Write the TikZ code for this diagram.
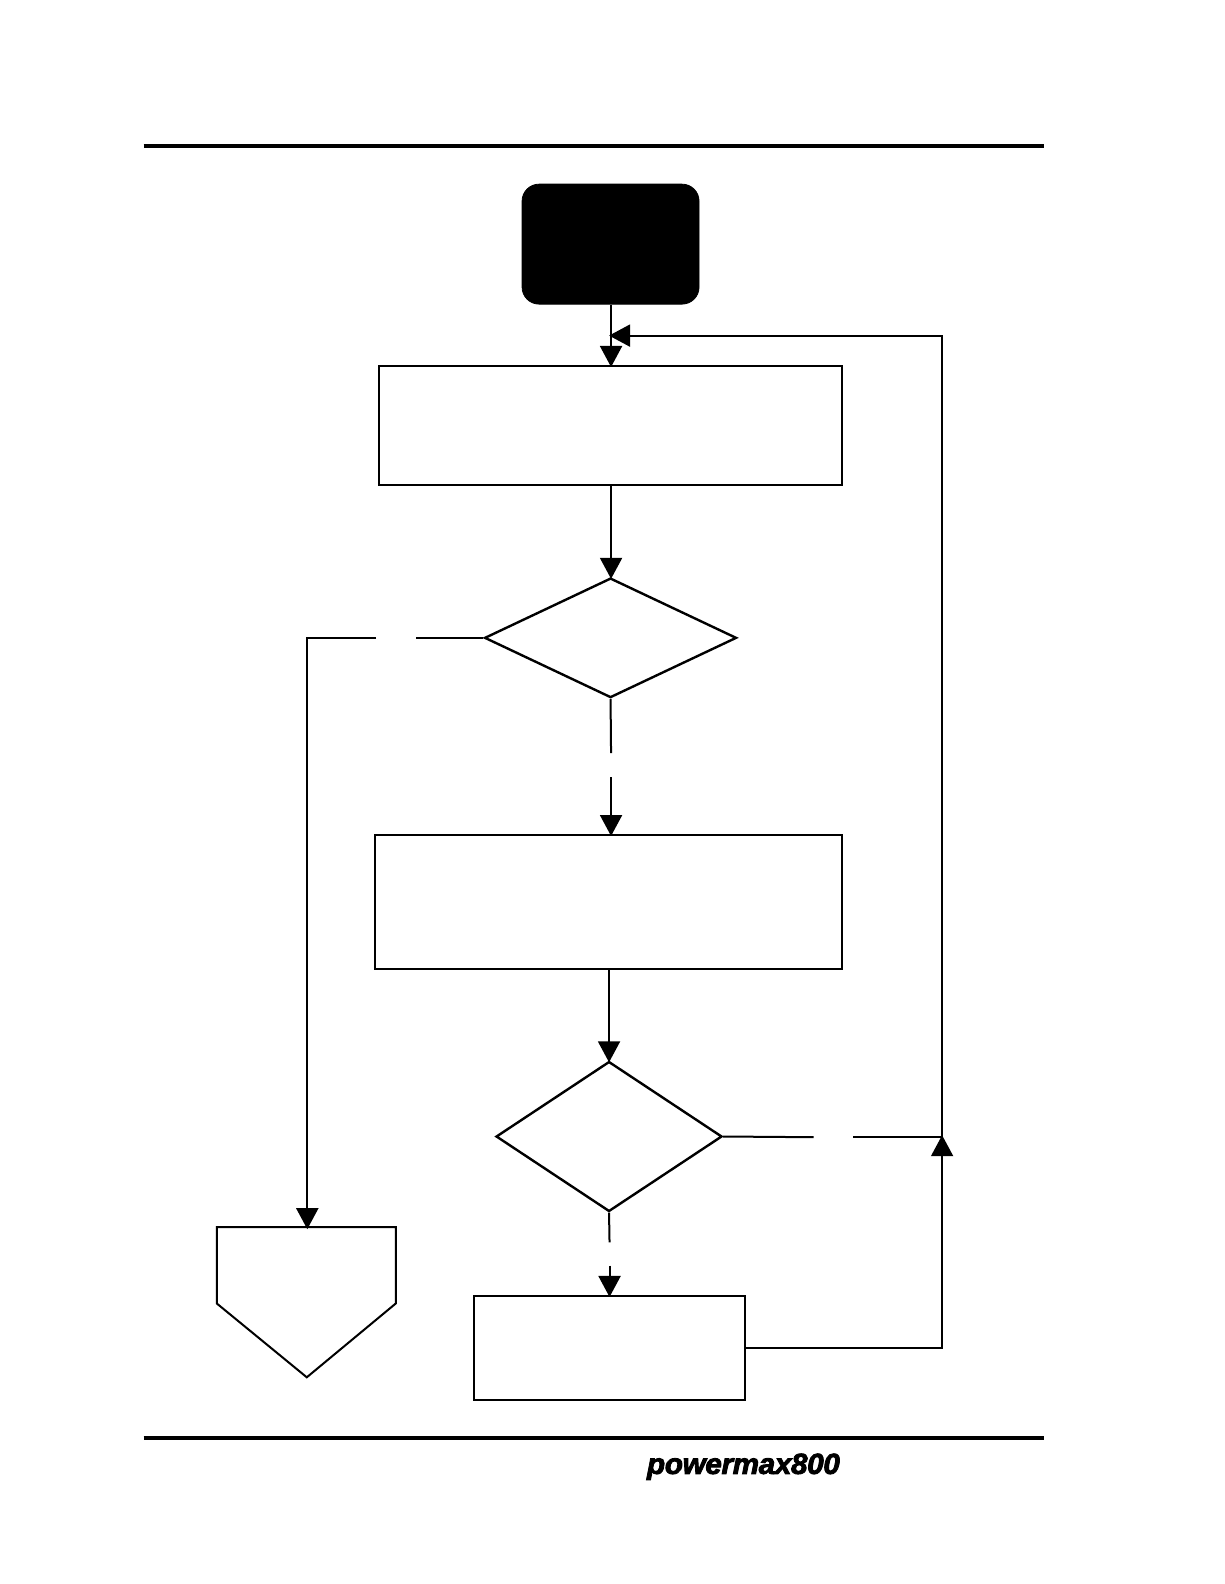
\documentclass[tikz,border=0pt]{standalone}
\usepackage{fontspec}
\usetikzlibrary{arrows.meta,shapes.geometric}
\newfontfamily\logofont[FakeStretch=1.02,FakeBold=3,LetterSpace=-1]{Liberation Sans}
\tikzset{
	flowbox/.style={draw,line width=1pt,inner sep=0pt},
	flowdec/.style={draw,diamond,line width=1.2pt,inner sep=0pt},
	flowline/.style={line width=1pt},
	flowarrow/.style={line width=1pt,shorten >=-1pt,-{Triangle[length=10.5pt,width=11pt]}},
	pagerule/.style={line width=2pt}
}

\begin{document}
\begin{tikzpicture}[x=0.5055pt,y=-0.5055pt]
	\useasboundingbox (0,0) rectangle (1211,1567);
	% page rules
	\draw[pagerule] (142,144.5) -- (1033,144.5);
	\draw[pagerule] (142,1423) -- (1033,1423);
	\node[font=\logofont\bfseries\itshape\fontsize{14.5}{15}\selectfont,inner sep=0pt] (logo) at (735.5,1451) {powermax800};
	% boxes
	\node[fill=black,draw,rounded corners=8.5pt,minimum width=88.5pt,minimum height=60pt,inner sep=0pt] (start) at (604,241.5) {};
	\node[flowbox,minimum width=231.5pt,minimum height=59.6pt] (boxA) at (604,421) {};
	\node[flowdec,minimum width=126pt,minimum height=59.8pt] (decA) at (604,631) {};
	\node[flowbox,minimum width=233.5pt,minimum height=67.2pt] (boxB) at (602,892.5) {};
	\node[flowdec,minimum width=113pt,minimum height=75pt] (decB) at (602.5,1124.3) {};
	\node[flowbox,minimum width=135.5pt,minimum height=52pt] (boxC) at (602.5,1333.5) {};
	% off page connector
	\coordinate (pageIn) at (304,1214);
	\draw[line width=1pt] (214.5,1214) -- (pageIn) -- (391.5,1214) -- (391.5,1289.5) -- (303.5,1362.5) -- (214.5,1289.5) -- cycle;
	% breaks left in the connectors
	\coordinate (gapA) at (412,631);
	\coordinate (gapB) at (372,631);
	\coordinate (gapC) at (604.5,745);
	\coordinate (gapD) at (604.5,769);
	\coordinate (gapE) at (805,1125);
	\coordinate (gapF) at (844,1125);
	\coordinate (gapG) at (603,1229);
	\coordinate (gapH) at (603,1252);
	\coordinate (joinUp) at (932,1125);
	\coordinate (joinIn) at (604.5,332);
	% connectors
	\draw[flowarrow] (start.south -| joinIn) -- (joinIn |- boxA.north);
	\draw[flowarrow] (joinIn |- boxA.south) -- (joinIn |- decA.north);
	\draw[flowline] (decA.west) -- (gapA);
	\draw[flowarrow] (gapB) -| (pageIn);
	\draw[flowline] (decA.south) -- (gapC);
	\draw[flowarrow] (gapD) -- (gapD |- boxB.north);
	\draw[flowarrow] (decB.north |- boxB.south) -- (decB.north);
	\draw[flowline] (decB.east) -- (gapE);
	\draw[flowline] (gapF) -- (joinUp);
	\draw[flowline] (decB.south) -- (gapG);
	\draw[flowarrow] (gapH) -- (gapH |- boxC.north);
	\draw[flowarrow] (boxC.east) -| (joinUp);
	\draw[flowarrow] (joinUp) |- (joinIn);
\end{tikzpicture}
\end{document}
